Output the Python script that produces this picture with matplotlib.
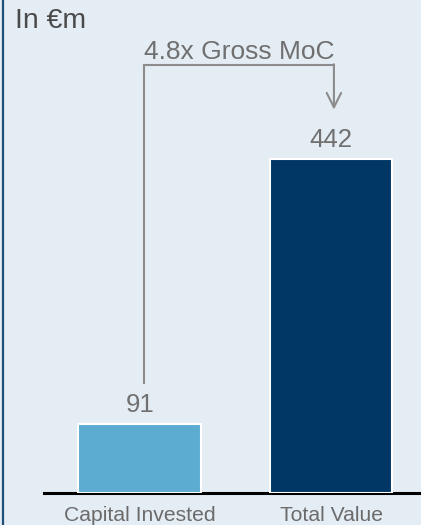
import matplotlib
matplotlib.use("Agg")
import matplotlib.pyplot as plt
from matplotlib.lines import Line2D

categories = ["Capital Invested", "Total Value"]
values = [91, 442]
bar_colors = ["#5CACD1", "#003764"]
unit_label = "In €m"
moc_label = "4.8x Gross MoC"

plt.rcParams['font.family'] = ['Liberation Sans', 'DejaVu Sans']

W, H = 421, 525
fig = plt.figure(figsize=(W / 100, H / 100), dpi=100)
bg = "#E4ECF4"
fig.patch.set_facecolor(bg)

# axes: left edge at 44px, bottom at 493px, top at figure top
ax = fig.add_axes([44 / W, 1 - 493 / H, 1 - 44 / W, 493 / H])
ax.set_facecolor(bg)
x = list(range(len(categories)))
ax.bar(x, values, width=0.64, color=bar_colors, edgecolor="white", linewidth=1.5, zorder=3)
ax.set_xlim(-0.5, 1.47)
ax.set_ylim(0, 652)

for s in ["top", "right", "left"]:
    ax.spines[s].set_visible(False)
ax.spines["bottom"].set_linewidth(2.2)
ax.spines["bottom"].set_color("black")
ax.set_yticks([])
ax.set_xticks(x)
ax.set_xticklabels(categories, fontsize=15.2, color="#6b6b6b")
ax.tick_params(axis="x", length=0, pad=9.5)

grey = "#707070"
for xi, v in zip(x, values):
    ax.annotate(str(v), (xi, v), xytext=(0, 5), textcoords="offset points",
                ha="center", va="bottom", fontsize=18.5, color=grey)

# bracket
line_col = "#8c8c8c"
top_y = 566
x0, x1 = x[0] + 0.025, x[1] + 0.015
ax.plot([x0, x0], [values[0] + 53, top_y], color=line_col, lw=1.5, solid_capstyle="butt", zorder=2)
ax.plot([x0, x1], [top_y, top_y], color=line_col, lw=1.5, zorder=2)
ax.annotate("", xy=(x1, values[1] + 65), xytext=(x1, top_y + 1),
            arrowprops=dict(arrowstyle="->", color=line_col, lw=1.5,
                            mutation_scale=26, shrinkA=0, shrinkB=0))
ax.text((x0 + x1) / 2, top_y + 8, moc_label, ha="center", va="baseline",
        fontsize=19, color=grey)

fig.text(15 / W, 1 - 21 / H, unit_label, ha="left", va="center", fontsize=20.5, color="#4a4a4a")

# left border line
fig.add_artist(Line2D([2.5 / W, 2.5 / W], [0, 1], transform=fig.transFigure,
                      color="#1F4E79", lw=1.6))

fig.savefig("out.png", dpi=100, facecolor=bg)
